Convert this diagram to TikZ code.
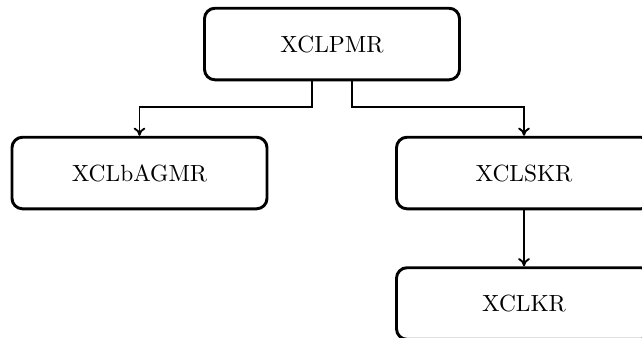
\documentclass[tikz,border=0pt]{standalone}
\usetikzlibrary{arrows.meta}
\begin{document}
\begin{tikzpicture}[x=0.4274pt,y=-0.4274pt,
  box/.style={draw,line width=1.25pt,rounded corners=4.5pt,minimum width=109pt,minimum height=30.6pt,inner sep=0pt},
  conn/.style={line width=0.8pt,-{To[length=3.5pt,width=5pt]}}]
\path[use as bounding box,clip] (0,0) rectangle (642,337);
\node[box] (top) at (332,44) {XCLPMR};
\node[box] (left) at (139.5,173) {XCLbAGMR};
\node[box] (right) at (524,173) {XCLSKR};
\node[box] (bottom) at (524,303.5) {XCLKR};
\draw[conn] ([xshift=-8.55pt]top.south) -- ++(0,26) -| (left.north);
\draw[conn] ([xshift=8.55pt]top.south) -- ++(0,26) -| (right.north);
\draw[conn] (right.south) -- (bottom.north);
\end{tikzpicture}
\end{document}
